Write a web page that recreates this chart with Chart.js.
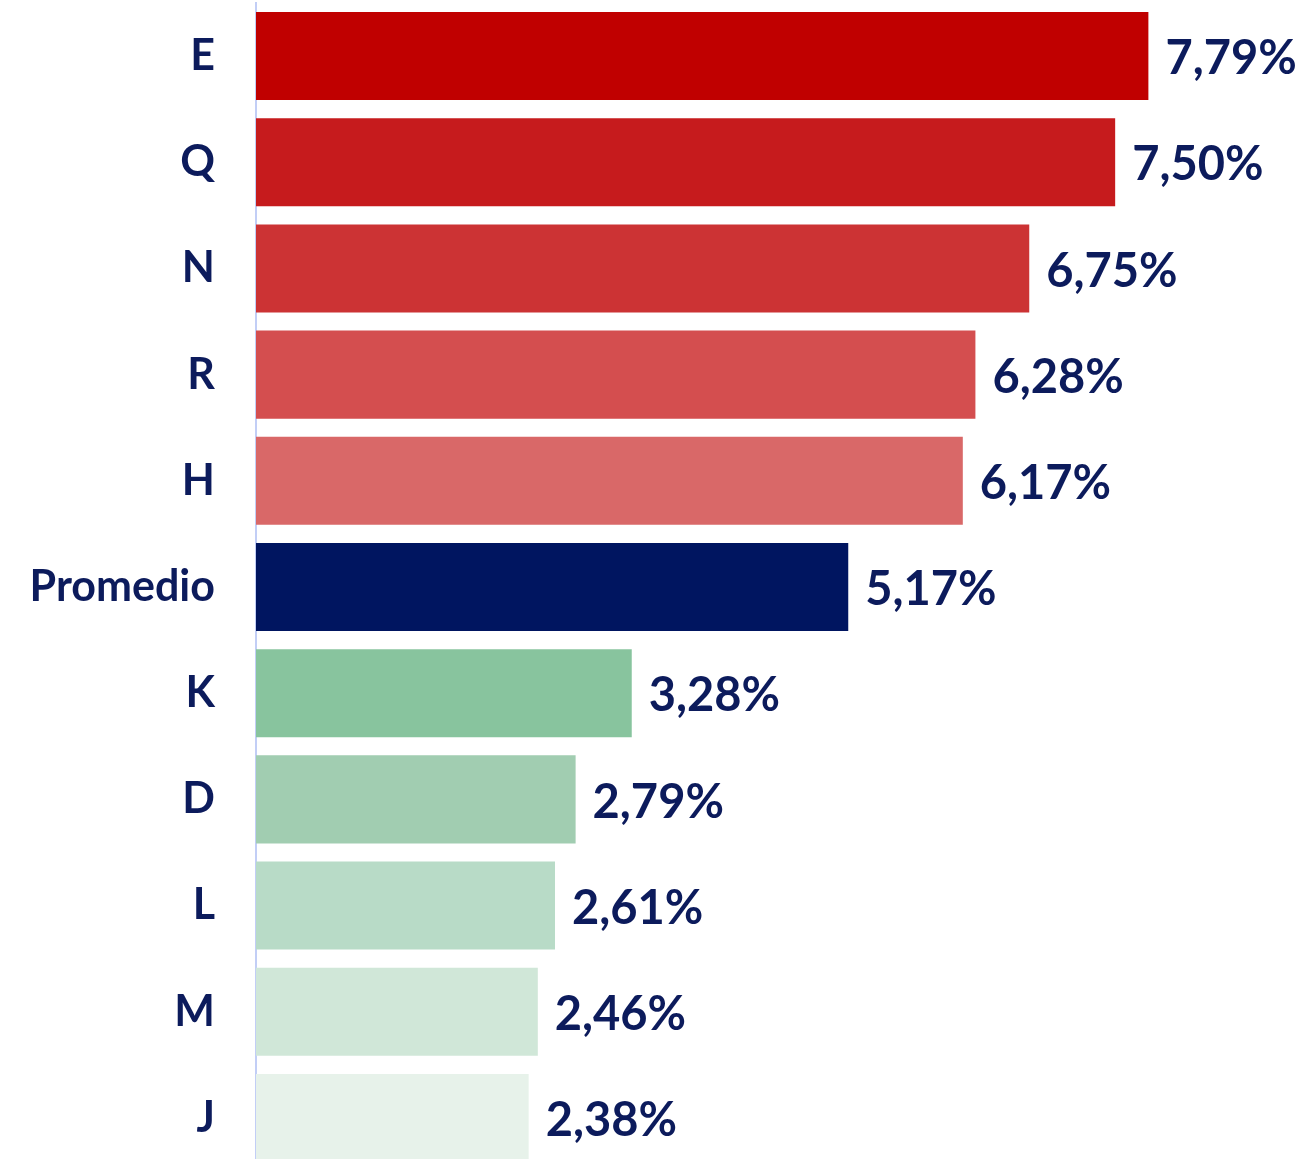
<!DOCTYPE html>
<html>
<head>
<meta charset="utf-8">
<script src="https://cdn.jsdelivr.net/npm/chart.js@4"></script>
<style>
  html, body { margin: 0; padding: 0; background: #fff; overflow: hidden; }
  #wrap { position: relative; width: 1303px; height: 1171px; }
</style>
</head>
<body>
<div id="wrap"><canvas id="rankChart"></canvas></div>
<script>
// Data
const labels = ["E", "Q", "N", "R", "H", "Promedio", "K", "D", "L", "M", "J"];
const values = [7.79, 7.50, 6.75, 6.28, 6.17, 5.17, 3.28, 2.79, 2.61, 2.46, 2.38];
const barColors = ["#c00000", "#c61b1d", "#cc3334", "#d44e4f", "#d96868",
                   "#001560", "#88c49e", "#a1cdb1", "#b8dbc7", "#d0e7d8", "#e7f2ea"];

const navy = "#0c1b5c";

// Value labels at the end of each bar
const valueLabels = {
    id: "valueLabels",
    afterDatasetsDraw(chart) {
        const ctx = chart.ctx;
        const meta = chart.getDatasetMeta(0);
        ctx.save();
        ctx.font = "bold 47px Lato";
        ctx.fillStyle = navy;
        ctx.textAlign = "left";
        ctx.textBaseline = "middle";
        meta.data.forEach((bar, i) => {
            const txt = values[i].toFixed(2).replace(".", ",") + "%";
            ctx.fillText(txt, bar.x + 17, bar.y + 3);
        });
        ctx.restore();
    }
};

const ctx = document.getElementById("rankChart").getContext("2d");

new Chart(ctx, {
    type: "bar",
    data: {
        labels: labels,
        datasets: [{
            data: values,
            backgroundColor: barColors,
            borderWidth: 0,
            barPercentage: 0.829,
            categoryPercentage: 1
        }]
    },
    plugins: [valueLabels],
    options: {
        indexAxis: "y",
        responsive: true,
        maintainAspectRatio: false,
        animation: false,
        layout: { padding: { top: 3, right: 16, bottom: 0, left: 0 } },
        plugins: {
            legend: { display: false },
            tooltip: { enabled: false }
        },
        scales: {
            x: {
                display: false,
                min: 0,
                max: 9
            },
            y: {
                afterFit(scale) {
                    scale.width = 256;
                    // tick padding should not push the plot area down
                    scale.paddingTop = 0;
                    scale.paddingBottom = 0;
                },
                grid: { display: false, drawTicks: false },
                border: { display: true, color: "#c2cef6", width: 2 },
                ticks: {
                    padding: 41,
                    color: navy,
                    font: { family: "Lato", weight: "bold", size: 43 }
                }
            }
        }
    }
});
</script>
</body>
</html>
